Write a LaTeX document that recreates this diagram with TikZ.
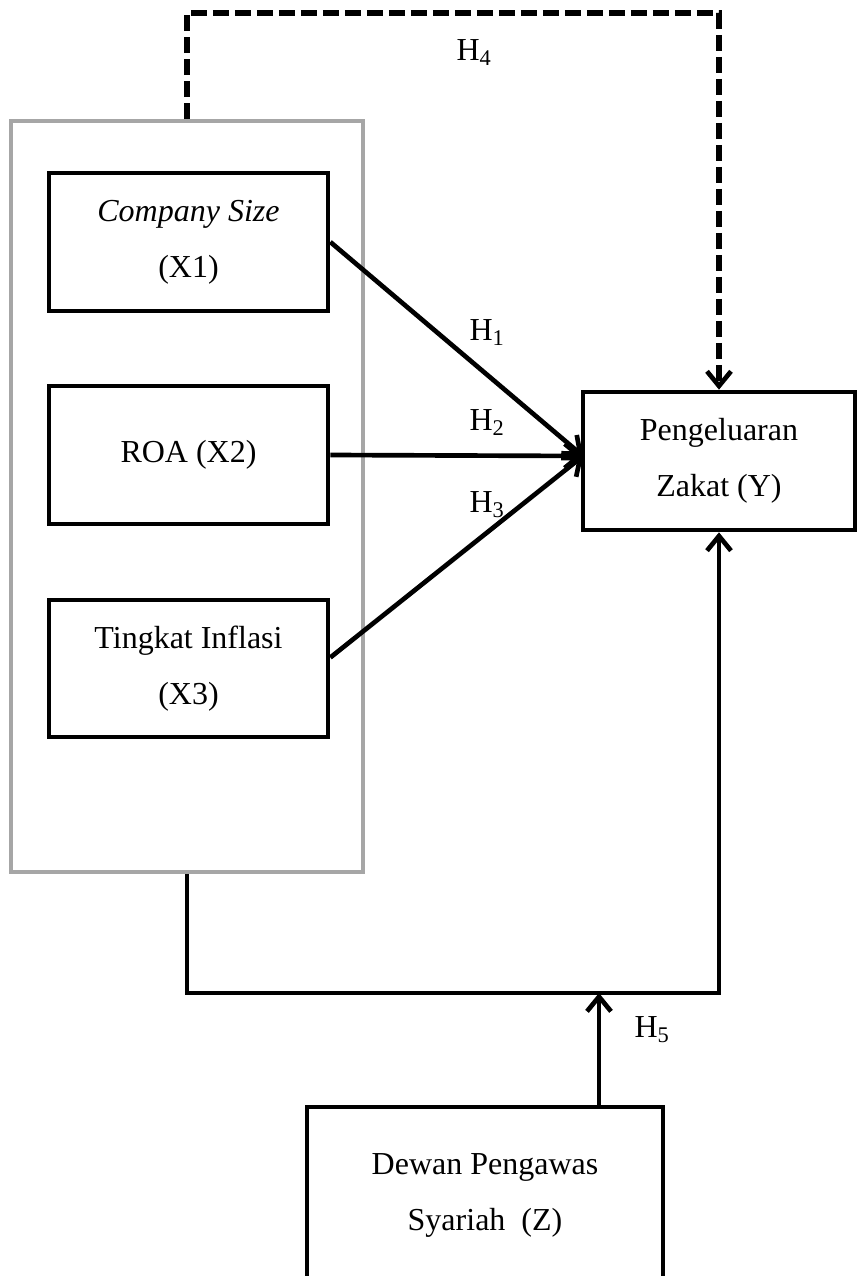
\documentclass[tikz,border=0pt]{standalone}
\usepackage{fontspec}
\setmainfont{Liberation Serif}
\usetikzlibrary{arrows.meta,calc}
\begin{document}
\begin{tikzpicture}[x=0.75pt,y=-0.75pt,
  every node/.style={font=\fontsize{24}{42}\selectfont},
  varbox/.style={draw=black,line width=3.5pt,rectangle,align=center,inner sep=0pt},
  grouprect/.style={draw=black!35,line width=2.8pt,rectangle,inner sep=0pt},
  conn/.style={line width=3.5pt,-{Straight Barb[length=11pt,width=18pt,line width=3.5pt]}},
  plainline/.style={line width=3.5pt},
  dashconn/.style={line width=3.8pt,dash pattern=on 12pt off 4.5pt,-{Straight Barb[length=11pt,width=18pt,line width=3.5pt]}},
  hlabel/.style={inner sep=0pt}
]
\useasboundingbox (0,0) rectangle (858,1276);
\node[grouprect,minimum width=352*0.75pt,minimum height=751*0.75pt] (G) at (187,496.5) {};
\node[varbox,minimum width=279*0.75pt,minimum height=138*0.75pt] (X1) at (188.5,242) {\textit{Company Size}\\(X1)};
\node[varbox,minimum width=279*0.75pt,minimum height=138*0.75pt] (X2) at (188.5,455) {ROA (X2)};
\node[varbox,minimum width=279*0.75pt,minimum height=137*0.75pt] (X3) at (188.5,668.5) {Tingkat Inflasi\\(X3)};
\node[varbox,minimum width=272*0.75pt,minimum height=138*0.75pt] (Y) at (719,461) {Pengeluaran\\Zakat (Y)};
\node[varbox,minimum width=356*0.75pt,minimum height=176*0.75pt] (Z) at (485,1195) {Dewan Pengawas\\Syariah\ \ (Z)};
\coordinate (c) at (583,456);
\coordinate (j) at (599,993);
\coordinate (t) at (187,13);
\draw[conn] (X1.east) -- (c);
\draw[conn] (X2.east) -- (c);
\draw[conn] ($(X3.east)+(0,-11)$) -- (c);
\draw[dashconn] (G.north) -- (t) -| (Y.north);
\draw[plainline] (G.south) |- (j);
\draw[conn] (j) -| (Y.south);
\draw[conn] (j |- Z.north) -- (j);
\node[hlabel] (H1) at (487,333) {H\textsubscript{1}};
\node[hlabel] (H2) at (487,423) {H\textsubscript{2}};
\node[hlabel] (H3) at (487,505) {H\textsubscript{3}};
\node[hlabel] (H4) at (474,53) {H\textsubscript{4}};
\node[hlabel] (H5) at (652,1030) {H\textsubscript{5}};
\end{tikzpicture}
\end{document}
